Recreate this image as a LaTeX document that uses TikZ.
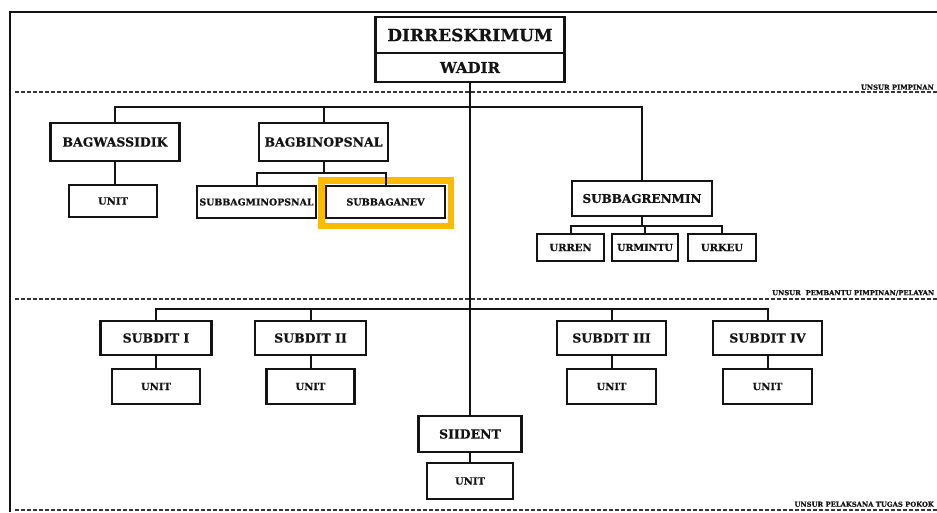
\documentclass[tikz,border=0pt]{standalone}
\usepackage{fontspec}
\setmainfont{DejaVu Serif}[BoldFeatures={FakeBold=0.6}]
\definecolor{ink}{HTML}{141414}
\definecolor{amber}{HTML}{FDBB00}
\begin{document}
\begin{tikzpicture}[x=1pt,y=-1pt,
  box/.style={draw=ink, line width=2.3pt, fill=white, inner sep=0pt,
    text=ink, font=\bfseries\fontsize{12.5}{14}\selectfont},
  smallbox/.style={box, font=\bfseries\fontsize{10}{12}\selectfont},
  link/.style={draw=ink, line width=2pt},
  frame/.style={draw=ink, line width=1.4pt},
  divider/.style={draw=ink!85, line width=1.3pt, dash pattern=on 4pt off 2pt},
  level/.style={text=ink, inner sep=0pt, font=\bfseries\fontsize{6.8}{8}\selectfont}]
\useasboundingbox (0,0) rectangle (937,512);

% outer frame
\draw[frame] (937,12) -- (10,12) -- (10,512);

% level separators
\draw[divider] (15,92) -- (937,92);
\draw[divider] (15,299) -- (937,299);
\draw[divider] (15,510) -- (937,510);
\node[level, anchor=south east] (lv1) at (934,90) {UNSUR PIMPINAN};
\node[level, anchor=south west] (lv2) at (772,296) {UNSUR\ \ PEMBANTU PIMPINAN/PELAYAN};
\node[level, anchor=south east] (lv3) at (934,507) {UNSUR PELAKSANA TUGAS POKOK};

% leadership
\node[box, minimum width=189pt, minimum height=36pt, font=\bfseries\fontsize{17}{19}\selectfont] (dir) at (470,35) {DIRRESKRIMUM};
\node[box, minimum width=189pt, minimum height=29pt, font=\bfseries\fontsize{15}{17}\selectfont] (wadir) at (470,67.5) {WADIR};

% support staff
\node[box, minimum width=129pt, minimum height=38pt] (bagwas) at (115,142) {BAGWASSIDIK};
\node[box, minimum width=129pt, minimum height=38pt] (bagbin) at (323.5,142) {BAGBINOPSNAL};
\node[smallbox, minimum width=88pt, minimum height=32pt] (unitA) at (113,201) {UNIT};
\node[smallbox, minimum width=119pt, minimum height=32pt, font=\bfseries\fontsize{9.4}{11}\selectfont] (subbagmin) at (256.5,202) {SUBBAGMINOPSNAL};
\node[smallbox, minimum width=119pt, minimum height=32pt, font=\bfseries\fontsize{9.6}{11}\selectfont] (subbaganev) at (385.5,202) {SUBBAGANEV};
\node[draw=amber, line width=6.5pt, minimum width=129.5pt, minimum height=45.5pt, inner sep=0pt] (mark) at (386,203) {};
\node[box, minimum width=140pt, minimum height=35pt, font=\bfseries\fontsize{12}{14}\selectfont] (subbagren) at (642,198.5) {SUBBAGRENMIN};
\node[smallbox, minimum width=67pt, minimum height=27pt] (urren) at (570.5,247.5) {URREN};
\node[smallbox, minimum width=66pt, minimum height=27pt, font=\bfseries\fontsize{9.6}{11}\selectfont] (urmintu) at (645,247.5) {URMINTU};
\node[smallbox, minimum width=68pt, minimum height=27pt] (urkeu) at (722,247.5) {URKEU};

% operational units
\node[box, minimum width=111pt, minimum height=34pt] (sub1) at (156,338) {SUBDIT I};
\node[box, minimum width=111pt, minimum height=34pt] (sub2) at (310.5,338) {SUBDIT II};
\node[box, minimum width=109pt, minimum height=34pt] (sub3) at (611.5,338) {SUBDIT III};
\node[box, minimum width=109pt, minimum height=34pt] (sub4) at (767.5,338) {SUBDIT IV};
\node[smallbox, minimum width=88pt, minimum height=35pt] (unit1) at (156,386.5) {UNIT};
\node[smallbox, minimum width=88pt, minimum height=35pt] (unit2) at (310.5,386.5) {UNIT};
\node[smallbox, minimum width=89pt, minimum height=35pt] (unit3) at (611.5,386.5) {UNIT};
\node[smallbox, minimum width=89pt, minimum height=35pt] (unit4) at (767.5,386.5) {UNIT};
\node[box, minimum width=103pt, minimum height=36pt] (siident) at (470,434) {SIIDENT};
\node[smallbox, minimum width=86pt, minimum height=36pt] (unit5) at (470,481) {UNIT};

% bus heights
\coordinate (busA) at (0,107);
\coordinate (busB) at (0,173);
\coordinate (busC) at (0,226);
\coordinate (busD) at (0,309);

% connectors
\path[link] (wadir.south) -- (siident.north);
\path[link] (bagwas.north) |- (subbagren.north |- busA) -- (subbagren.north);
\path[link] (bagbin.north) -- (bagbin.north |- busA);
\path[link] (bagwas.south) -- (bagwas.south |- unitA.north);
\path[link] (bagbin.south) -- (bagbin.south |- busB);
\path[link] (subbagmin.north) |- (subbaganev.north |- busB) -- (subbaganev.north);
\path[link] (subbagren.south) -- (subbagren.south |- busC);
\path[link] (urren.north) |- (urkeu.north |- busC) -- (urkeu.north);
\path[link] (urmintu.north) -- (urmintu.north |- busC);
\path[link] (sub1.north) |- (sub4.north |- busD) -- (sub4.north);
\path[link] (sub2.north) -- (sub2.north |- busD);
\path[link] (sub3.north) -- (sub3.north |- busD);
\path[link] (sub1.south) -- (unit1.north);
\path[link] (sub2.south) -- (unit2.north);
\path[link] (sub3.south) -- (unit3.north);
\path[link] (sub4.south) -- (unit4.north);
\path[link] (siident.south) -- (unit5.north);
\end{tikzpicture}
\end{document}
